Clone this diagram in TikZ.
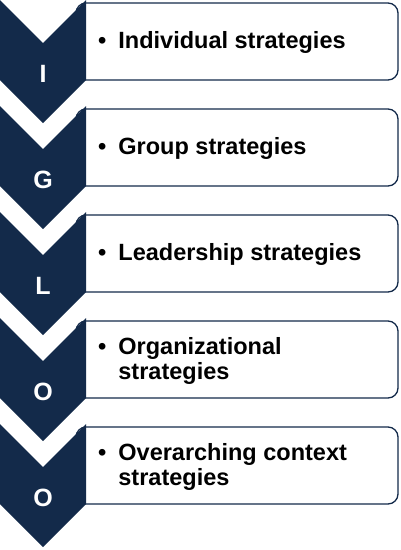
\documentclass[tikz,border=0pt]{standalone}
\usepackage{fontspec}
\setmainfont{Liberation Sans}
\usetikzlibrary{fit}
\definecolor{navy}{RGB}{19,42,74}
\tikzset{
  chevron/.style={fill=navy},
  itembox/.style={draw=navy, line width=1.3pt, fill=white, rounded corners=10pt, inner sep=0pt},
  itemtext/.style={anchor=west, inner sep=0pt, font=\bfseries\fontsize{23.5}{23.5}\selectfont},
  letter/.style={text=white, inner sep=0pt, font=\bfseries\fontsize{25}{25}\selectfont},
}

\begin{document}
\begin{tikzpicture}[x=1pt, y=-1pt]
    \useasboundingbox (0,0) rectangle (400,550);
    \foreach \t/\ltr/\txt [count=\i] in {0/I/Individual strategies, 106/G/Group strategies, 212/L/Leadership strategies, 318/O/Organizational\\&strategies, 424/O/Overarching context\\&strategies}{
        \node[itembox, fit={(76,\t+3) (398,\t+80)}] (box\i) {};
        \fill[chevron] (0,\t) -- (43,\t+43) -- (86,\t) -- (86,\t+80) -- (43,\t+123) -- (0,\t+80) -- cycle;
        \node[letter] (ltr\i) at (43,\t+74) {\ltr};
        \node[itemtext] (txt\i) at (98,\t+44) {\begin{tabular}{@{}l@{\hspace{12pt}}l@{}}\textbullet & \txt\end{tabular}};
    }
\end{tikzpicture}
\end{document}
